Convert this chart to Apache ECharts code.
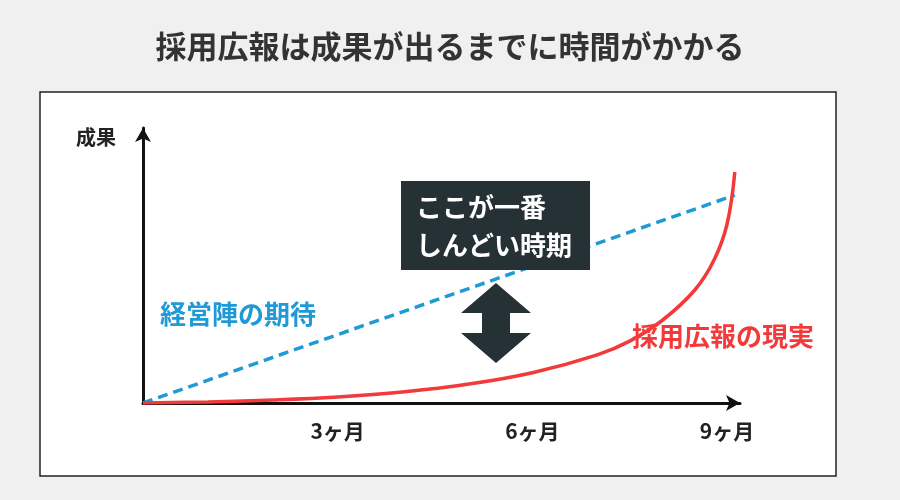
<!DOCTYPE html>
<html>
<head>
<meta charset="utf-8">
<script src="https://cdn.jsdelivr.net/npm/echarts@6/dist/echarts.min.js"></script>
<style>
html,body{margin:0;padding:0;background:#f0f0f0;}
#main{width:900px;height:500px;}
</style>
</head>
<body>
<div id="main"></div>
<script>
var FONT = '"Noto Sans CJK JP", sans-serif';

// 期待（直線）と現実（指数的な伸び）
var expectData = [[0, 0], [9.12, 75.6]];
var realityData = [
    [0, 0], [1, 0.4], [2, 1.1], [3, 2.2], [4, 4], [5, 6.8], [6, 11],
    [7, 17.5], [7.5, 22.5], [8, 30], [8.5, 41], [8.8, 52], [9, 65], [9.12, 84]
];
var tickLabels = {3: '3ヶ月', 6: '6ヶ月', 9: '9ヶ月'};

var myChart = echarts.init(document.getElementById('main'));

myChart.setOption({
    backgroundColor: '#f0f0f0',
    animation: false,
    title: {
        text: '採用広報は成果が出るまでに時間がかかる',
        left: 'center',
        top: 26,
        textStyle: {fontFamily: FONT, fontSize: 31, fontWeight: 'bold', color: '#333'}
    },
    grid: {left: 143, right: 160, top: 128, bottom: 97},
    xAxis: {
        type: 'value',
        min: 0, max: 9.2, interval: 3,
        splitLine: {show: false},
        axisTick: {show: false},
        axisLine: {lineStyle: {color: '#111', width: 3}, symbol: ['none', 'arrow'], symbolSize: [12, 14]},
        axisLabel: {
            showMaxLabel: false,
            margin: 18,
            fontFamily: FONT, fontSize: 21, fontWeight: 'bold', color: '#222',
            formatter: function (v) { return tickLabels[v] || ''; }
        }
    },
    yAxis: {
        type: 'value',
        min: 0, max: 100,
        splitLine: {show: false},
        axisTick: {show: false},
        axisLabel: {show: false},
        axisLine: {show: true, lineStyle: {color: '#111', width: 3}, symbol: ['none', 'arrow'], symbolSize: [12, 14]}
    },
    series: [
        {
            name: '経営陣の期待',
            type: 'line',
            data: expectData,
            symbol: 'none',
            lineStyle: {color: '#1f9ad6', width: 3.5, type: [10, 6]},
            z: 3
        },
        {
            name: '採用広報の現実',
            type: 'line',
            data: realityData,
            smooth: 0.4,
            symbol: 'none',
            lineStyle: {color: '#f23a3a', width: 3.5},
            z: 4
        }
    ],
    graphic: [
        {
            type: 'rect', z: -1,
            shape: {x: 40, y: 92, width: 796, height: 384},
            style: {fill: '#fff', stroke: '#222', lineWidth: 1.5}
        },
        {
            type: 'text', left: 76, top: 127,
            style: {text: '成果', font: 'bold 20px ' + FONT, fill: '#222'}
        },
        {
            type: 'text', left: 160, top: 301,
            style: {text: '経営陣の期待', font: 'bold 26px ' + FONT, fill: '#1f9ad6'}
        },
        {
            type: 'text', left: 632, top: 323,
            style: {text: '採用広報の現実', font: 'bold 26px ' + FONT, fill: '#f23a3a'}
        },
        {
            type: 'rect', z: 10,
            shape: {x: 401, y: 181, width: 189, height: 89},
            style: {fill: '#263136'}
        },
        {
            type: 'text', z: 11, left: 416, top: 188,
            style: {text: 'ここが一番\nしんどい時期', font: 'bold 26px ' + FONT, fill: '#fff', lineHeight: 38}
        },
        {
            type: 'polygon', z: 10,
            shape: {points: [
                [496, 283], [531, 313], [510, 313], [510, 333], [531, 333],
                [496, 363], [461, 333], [482, 333], [482, 313], [461, 313]
            ]},
            style: {fill: '#263136'}
        }
    ]
});
</script>
</body>
</html>
